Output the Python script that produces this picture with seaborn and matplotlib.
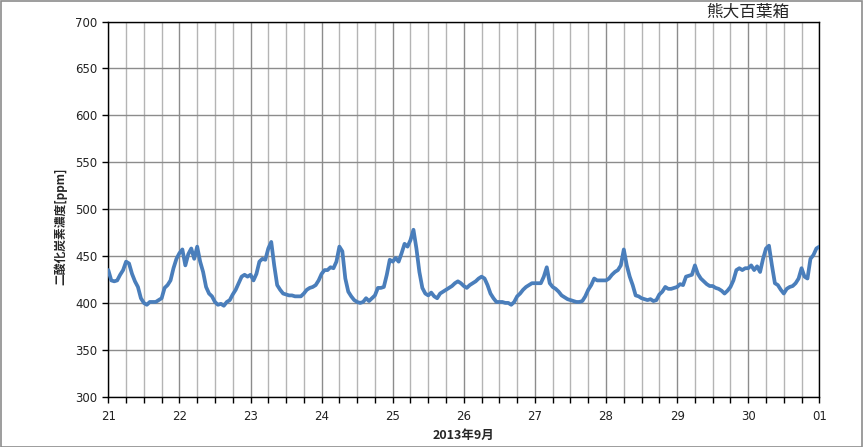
import numpy as np
import pandas as pd
import matplotlib
matplotlib.use("Agg")
import matplotlib.pyplot as plt
from matplotlib.patches import Rectangle
import seaborn as sns

# Hourly CO2 readings [ppm], one list per day (hour 0..23)
co2_sep21 = [435, 424, 423, 424, 430, 435, 444, 442, 431, 423, 417, 405,
             400, 398, 401, 401, 401, 403, 405, 416, 419, 424, 437, 447]
co2_sep22 = [453, 457, 440, 452, 458, 447, 460, 444, 433, 417, 410, 407,
             401, 398, 399, 397, 401, 403, 409, 414, 421, 428, 430, 428]
co2_sep23 = [430, 424, 431, 444, 447, 446, 458, 465, 440, 419, 414, 410,
             409, 408, 408, 407, 407, 407, 410, 414, 416, 417, 419, 424]
co2_sep24 = [431, 435, 435, 438, 437, 444, 460, 455, 426, 412, 407, 403,
             401, 400, 401, 405, 402, 405, 408, 416, 416, 417, 430, 446]
co2_sep25 = [444, 448, 444, 453, 463, 460, 467, 478, 458, 433, 416, 410,
             408, 411, 407, 405, 410, 412, 414, 416, 418, 421, 423, 421]
co2_sep26 = [418, 416, 419, 421, 423, 426, 428, 426, 419, 410, 405, 401,
             401, 401, 400, 400, 398, 401, 407, 410, 414, 417, 419, 421]
co2_sep27 = [421, 421, 421, 428, 438, 421, 417, 415, 412, 408, 406, 404,
             403, 402, 401, 401, 402, 407, 414, 419, 426, 424, 424, 424]
co2_sep28 = [424, 426, 430, 433, 435, 440, 457, 440, 428, 419, 408, 407,
             405, 404, 403, 404, 402, 403, 409, 412, 417, 415, 415, 416]
co2_sep29 = [417, 420, 419, 428, 429, 430, 440, 431, 426, 423, 420, 418,
             418, 416, 415, 413, 410, 413, 417, 424, 435, 437, 435, 437]
co2_sep30 = [437, 440, 435, 439, 433, 447, 458, 461, 440, 421, 419, 414,
             410, 415, 417, 418, 421, 426, 437, 428, 426, 447, 451, 458]
co2_oct01_start = [460]

day_labels = ["21", "22", "23", "24", "25", "26", "27", "28", "29", "30", "01"]
y_ticks = [300, 350, 400, 450, 500, 550, 600, 650, 700]

days = [co2_sep21, co2_sep22, co2_sep23, co2_sep24, co2_sep25,
        co2_sep26, co2_sep27, co2_sep28, co2_sep29, co2_sep30]
values = [v for d in days for v in d] + co2_oct01_start
t = [21 + i / 24 for i in range(len(values))]
df = pd.DataFrame({"day": t, "co2": values})

sns.set_theme(style="white")
plt.rcParams["font.family"] = ["DejaVu Sans", "Noto Sans CJK JP"]
jp = ["Noto Sans CJK JP", "DejaVu Sans"]

fig = plt.figure(figsize=(8.63, 4.47), dpi=100)
ax = fig.add_axes([0.1255, 0.1125, 0.9494 - 0.1255, 0.9519 - 0.1125])

# grid
for x in np.arange(21, 31.001, 0.25):
    major = abs(x - round(x)) < 1e-6
    ax.axvline(x, color="#8c8c8c" if major else "#b4b4b4", lw=1.0, zorder=0)
for y in y_ticks:
    ax.axhline(y, color="#8c8c8c", lw=1.0, zorder=0)

sns.lineplot(data=df, x="day", y="co2", ax=ax, color="#4a7ebb", lw=2.7,
             estimator=None, zorder=3)

ax.set_xlim(21, 31)
ax.set_ylim(300, 700)
ax.set_xticks(range(21, 32))
ax.set_xticklabels(day_labels)
ax.set_xticks(np.arange(21, 31.001, 0.25), minor=True)
ax.set_yticks(y_ticks)
ax.tick_params(axis="both", which="both", direction="out", length=4.5,
               width=1, color="black", labelsize=8.5, labelcolor="#222222",
               bottom=True, left=True)
ax.tick_params(axis="x", which="major", pad=5)
for s in ax.spines.values():
    s.set_color("black")
    s.set_linewidth(1.0)

ax.set_xlabel("")
ax.set_ylabel("")
fig.text(463 / 863, 1 - 435 / 447, "2013年9月", ha="center", va="center",
         fontsize=9, fontweight="bold", family=jp)
fig.text(61 / 863, 1 - 226 / 447, "二酸化炭素濃度[ppm]", ha="center",
         va="center", rotation=90, fontsize=8.5, fontweight="bold", family=jp)
fig.text(748 / 863, 1 - 12 / 447, "熊大百葉箱", ha="center", va="center",
         fontsize=12, family=jp)

fig.patches.append(Rectangle((0.0006, 0.001), 0.9985, 0.997,
                             transform=fig.transFigure, fill=False,
                             edgecolor="#8c8c8c", lw=1.2))

fig.savefig("out.png", dpi=100)
